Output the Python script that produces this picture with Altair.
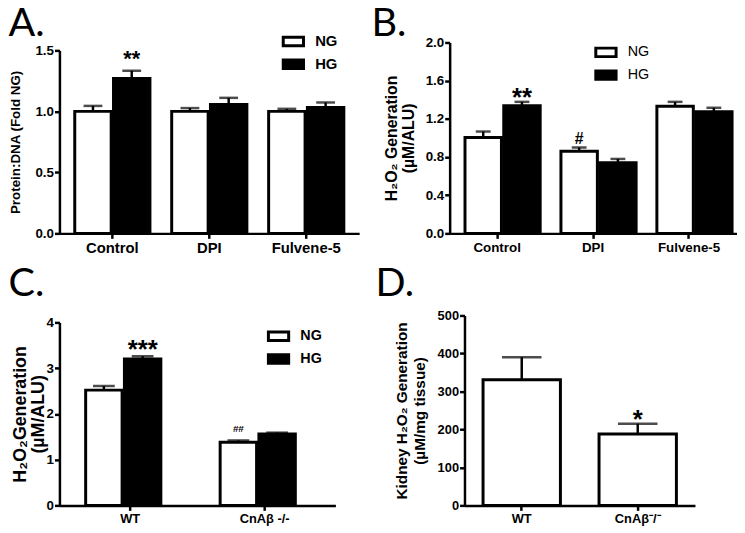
import altair as alt
import pandas as pd

FONT = "Liberation Sans"
LETTER_FONT = "Lato"

# ---------------- data ----------------
a_groups = ["Control", "DPI", "Fulvene-5"]
a_ng = [1.00, 1.00, 1.00]
a_ng_err = [0.045, 0.027, 0.021]
a_hg = [1.27, 1.057, 1.033]
a_hg_err = [0.063, 0.054, 0.040]
a_ng_marks = ["", "", ""]
a_hg_marks = ["**", "", ""]

b_groups = ["Control", "DPI", "Fulvene-5"]
b_ng = [1.005, 0.86, 1.333]
b_ng_err = [0.062, 0.040, 0.045]
b_hg = [1.337, 0.739, 1.274]
b_hg_err = [0.041, 0.041, 0.042]
b_ng_marks = ["", "#", ""]
b_hg_marks = ["**", "", ""]

c_groups = ["WT", "CnAβ -/-"]
c_ng = [2.52, 1.38]
c_ng_err = [0.09, 0.04]
c_hg = [3.20, 1.56]
c_hg_err = [0.06, 0.03]
c_ng_marks = ["", "##"]
c_hg_marks = ["***", ""]

d_groups = ["WT", "CnAβ⁻/⁻"]
d_vals = [331, 188]
d_err = [59, 27]
d_marks = ["", "*"]

series_names = ["NG", "HG"]

BAR_STROKE = 3
LINE_W = 2.5


def grouped_frame(groups, ng, ng_err, hg, hg_err, ng_marks, hg_marks):
    rows = []
    for i, g in enumerate(groups):
        rows.append({"group": g, "series": "NG", "mean": ng[i],
                     "upper": ng[i] + ng_err[i], "mark": ng_marks[i]})
        rows.append({"group": g, "series": "HG", "mean": hg[i],
                     "upper": hg[i] + hg_err[i], "mark": hg_marks[i]})
    return pd.DataFrame(rows)


def x_enc(groups, pi, po, label_size, rng=None):
    sc = {"paddingInner": pi, "paddingOuter": po}
    if rng is not None:
        sc["range"] = rng
    return alt.X("group:N", sort=groups, scale=alt.Scale(**sc),
                 axis=alt.Axis(title=None, labelAngle=0, labelFont=FONT,
                               labelFontWeight="bold", labelFontSize=label_size,
                               labelColor="black", domainColor="black",
                               domainWidth=LINE_W, tickColor="black", tickWidth=LINE_W,
                               tickSize=5, labelPadding=2, grid=False))


def y_enc(field, p):
    sc = {"domain": p["ydom"], "nice": False, "zero": True}
    if p.get("yrng") is not None:
        sc["range"] = p["yrng"]
    ax = dict(values=p["yticks"], format=p["yfmt"],
              title=p["ytitle"], titleX=p["tx"], titleY=p["ty"],
              titleAngle=270, titleAlign="center",
              titleBaseline="middle", titleFont=FONT,
              titleFontWeight="bold", titleFontSize=p["tsize"],
              titleLineHeight=p["tlh"], titleColor="black",
              labelFont=FONT, labelFontWeight="bold",
              labelFontSize=p["ylab"], labelColor="black",
              labelPadding=1, domainColor="black",
              domainWidth=LINE_W, tickColor="black", tickWidth=LINE_W,
              tickSize=5, grid=False)
    if p.get("yoffset") is not None:
        ax["offset"] = p["yoffset"]
    return alt.Y(f"{field}:Q", scale=alt.Scale(**sc), axis=alt.Axis(**ax))


def letter_layer(letter, lx, ly):
    return alt.Chart(pd.DataFrame({"letter": [letter]})).mark_text(
        font=LETTER_FONT, fontSize=40, align="left", baseline="top", color="black"
    ).encode(text="letter:N", x=alt.value(lx), y=alt.value(ly))


def grouped_panel(df, groups, p):
    base = alt.Chart(df)
    x = x_enc(groups, p["pi"], p["po"], p["xlab"])
    xo = alt.XOffset("series:N", sort=series_names,
                     scale=alt.Scale(paddingInner=0.06))
    legend = alt.Legend(orient="none", legendX=p["lx"], legendY=p["ly"],
                        title=None, direction="vertical",
                        symbolType="M-1,-0.42H1V0.42H-1Z", symbolSize=420,
                        symbolStrokeColor="black", symbolStrokeWidth=BAR_STROKE,
                        labelFont=FONT, labelFontWeight=p["lweight"],
                        labelFontSize=p["lsize"], labelColor="black",
                        labelOffset=10, rowPadding=0, padding=0)
    bars = base.mark_bar(stroke="black", strokeWidth=BAR_STROKE).encode(
        x=x, xOffset=xo, y=y_enc("mean", p),
        fill=alt.Fill("series:N", sort=series_names,
                      scale=alt.Scale(domain=series_names, range=["white", "black"]),
                      legend=legend))
    stems = base.mark_rule(color="black", strokeWidth=LINE_W).encode(
        x=x, xOffset=xo, y=y_enc("mean", p), y2="upper:Q")
    caps = base.mark_tick(color="black", orient="horizontal", thickness=LINE_W,
                          size=p["cap"]).encode(x=x, xOffset=xo, y=y_enc("upper", p))
    stars = base.transform_filter("indexof(datum.mark, '*') >= 0").mark_text(
        font=FONT, fontWeight="bold", fontSize=p["star_size"], baseline="alphabetic",
        dy=p["star_dy"], color="black").encode(
        x=x, xOffset=xo, y=y_enc("upper", p), text="mark:N")
    layers = [bars, stems, caps, stars]
    if p.get("hash_size"):
        hashes = base.transform_filter("indexof(datum.mark, '#') >= 0").mark_text(
            font=FONT, fontWeight="bold", fontSize=p["hash_size"],
            baseline="alphabetic", dy=p["hash_dy"], color="black").encode(
            x=x, xOffset=xo, y=y_enc("upper", p), text="mark:N")
        layers.append(hashes)
    layers.append(letter_layer(p["letter"], p["letx"], p["lety"]))
    return alt.layer(*layers).properties(width=p["w"], height=p["h"])


# ---------------- panel A ----------------
pa = dict(w=303, h=193, ydom=[0, 1.5], yrng=[193, 8], yticks=[0, 0.5, 1.0, 1.5],
          yfmt=".1f", ytitle="Protein:DNA (Fold NG)", tx=-44.5, ty=100.5,
          tsize=13.5, tlh=16, ylab=13.5, xlab=15, pi=0.2245, po=0.158, cap=19,
          lx=224.5, ly=-13, lweight="bold", lsize=15, star_size=22, star_dy=-5,
          letter="A.", letx=-51.5, lety=-39)
chart_a = grouped_panel(
    grouped_frame(a_groups, a_ng, a_ng_err, a_hg, a_hg_err, a_ng_marks, a_hg_marks),
    a_groups, pa)

# ---------------- panel B ----------------
pb = dict(w=290, h=193, ydom=[0, 2.0], yrng=None,
          yticks=[0, 0.4, 0.8, 1.2, 1.6, 2.0], yfmt=".1f",
          ytitle=["H₂O₂ Generation", "(µM/ALU)"], tx=-58.5, ty=96.5,
          tsize=16, tlh=17, ylab=13.5, xlab=13.5, pi=0.33, po=0.16, cap=15,
          lx=146, ly=-2, lweight="normal", lsize=14.5, star_size=26, star_dy=3.7,
          hash_size=16, hash_dy=-3.7, letter="B.", letx=-79, lety=-39)
chart_b = grouped_panel(
    grouped_frame(b_groups, b_ng, b_ng_err, b_hg, b_hg_err, b_ng_marks, b_hg_marks),
    b_groups, pb)

# ---------------- panel C ----------------
pc = dict(w=279, h=192, ydom=[0, 4], yrng=[192, 7], yticks=[0, 1, 2, 3, 4],
          yfmt="d", ytitle=["H₂O₂Generation", "(µM/ALU)"], tx=-39, ty=99.5,
          tsize=18, tlh=18, ylab=13.5, xlab=13, pi=0.338, po=0.195, cap=22,
          lx=209.5, ly=9, lweight="bold", lsize=14.5, star_size=26, star_dy=1.5,
          hash_size=10, hash_dy=-9, letter="C.", letx=-51.5, lety=-52)
chart_c = grouped_panel(
    grouped_frame(c_groups, c_ng, c_ng_err, c_hg, c_hg_err, c_ng_marks, c_hg_marks),
    c_groups, pc)

# ---------------- panel D ----------------
# D's view starts in the same grid column as B; its axes are shifted 15px right
pd_ = dict(ydom=[0, 500], yrng=None, yticks=[0, 100, 200, 300, 400, 500], yfmt="d",
           ytitle=["Kidney H₂O₂ Generation", "(µM/mg tissue)"], tx=-63.5, ty=96,
           tsize=15.5, tlh=18, ylab=13, yoffset=-15)
d_df = pd.DataFrame({"group": d_groups, "mean": d_vals,
                     "upper": [v + e for v, e in zip(d_vals, d_err)], "mark": d_marks})
d_base = alt.Chart(d_df)
d_x = x_enc(d_groups, 0.333, 0.16, 13, rng=[15, 248])
d_bars = d_base.mark_bar(fill="white", stroke="black", strokeWidth=BAR_STROKE).encode(
    x=d_x, y=y_enc("mean", pd_))
d_stems = d_base.mark_rule(color="black", strokeWidth=LINE_W).encode(
    x=d_x, y=y_enc("mean", pd_), y2="upper:Q")
d_caps = d_base.mark_tick(color="black", orient="horizontal", thickness=LINE_W,
                          size=40).encode(x=d_x, y=y_enc("upper", pd_))
d_stars = d_base.transform_filter("indexof(datum.mark, '*') >= 0").mark_text(
    font=FONT, fontWeight="bold", fontSize=26, baseline="alphabetic", dy=4,
    color="black").encode(x=d_x, y=y_enc("upper", pd_), text="mark:N")
chart_d = alt.layer(d_bars, d_stems, d_caps, d_stars,
                    letter_layer("D.", -75, -52)).properties(width=248, height=192)

chart = alt.concat(
    chart_a, chart_b, chart_c, chart_d, columns=2,
    spacing=alt.RowColnumber(row=83, column=91.5), bounds="flush"
).resolve_scale(fill="independent").properties(
    padding={"top": -7, "left": 0, "right": 0, "bottom": 0}
).configure_view(stroke=None)

chart.save("out.html", embed_options={"renderer": "svg", "actions": False})
